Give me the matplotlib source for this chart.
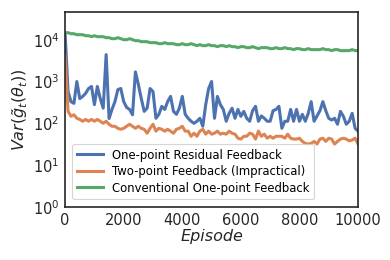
import numpy as np
import matplotlib
matplotlib.use('Agg')
import matplotlib.pyplot as plt

# data, one value every 100 episodes
episodes = np.arange(0, 10001, 100)

residual = [14000, 575, 330, 300, 1000, 390, 440, 520, 680, 760,
	280, 760, 390, 230, 4400, 130, 215, 330, 640, 680,
	330, 240, 215, 160, 1700, 850, 390, 193, 230, 680,
	575, 132, 164, 255, 215, 330, 440, 193, 164, 230,
	440, 164, 132, 112, 100, 112, 132, 85, 280, 680,
	1000, 132, 440, 280, 215, 112, 173, 230, 132, 215,
	147, 193, 132, 112, 200, 255, 112, 150, 132, 112,
	112, 200, 215, 255, 76, 112, 112, 215, 112, 215,
	112, 164, 112, 173, 330, 112, 150, 200, 330, 200,
	132, 120, 132, 95, 193, 147, 95, 112, 173, 76,
	65]

two_point = [4000, 193, 147, 160, 132, 124, 112, 124, 112, 124,
	112, 124, 112, 100, 112, 95, 85, 85, 76, 72,
	76, 85, 95, 85, 76, 85, 76, 72, 58, 76,
	95, 65, 76, 72, 65, 72, 65, 58, 72, 76,
	85, 65, 65, 49, 58, 49, 65, 72, 55, 65,
	55, 58, 65, 55, 58, 55, 65, 58, 55, 44,
	42, 49, 49, 58, 55, 42, 65, 49, 55, 44,
	49, 44, 49, 49, 49, 44, 55, 44, 42, 42,
	44, 37, 33, 32, 33, 37, 32, 42, 44, 37,
	44, 42, 32, 37, 42, 44, 42, 38, 40, 44,
	32]

conventional = [14680, 14680, 13890, 13890, 13150, 13150, 13150, 12450, 12450, 11790,
	12450, 11790, 11790, 11790, 11160, 11160, 10560, 10560, 11160, 10560,
	10000, 10000, 10560, 10000, 9460, 9460, 8960, 8960, 8960, 8480,
	8480, 8480, 8030, 8030, 8480, 8030, 8030, 8030, 7600, 7600,
	8030, 7600, 7600, 8030, 7600, 7200, 7600, 7200, 7200, 7600,
	7200, 7200, 6810, 7200, 7200, 6810, 7200, 6810, 6810, 6450,
	6810, 6810, 6450, 6450, 6810, 6450, 6110, 6450, 6450, 6450,
	6110, 6110, 6450, 6110, 6110, 6450, 6110, 6110, 5780, 6110,
	6110, 5780, 5780, 6110, 5780, 5780, 5780, 5780, 6110, 5780,
	5780, 5470, 5780, 5780, 5470, 5470, 5470, 5470, 5780, 5470,
	5470]

labels = ['One-point Residual Feedback',
	'Two-point Feedback (Impractical)',
	'Conventional One-point Feedback']
colors = ['#4c72b0', '#dd8452', '#55a868']

fig = plt.figure(figsize=(3.9, 2.6), dpi=100)
ax = fig.add_axes([0.167, 0.204, 0.751, 0.75])

for vals, lab, col in zip([residual, two_point, conventional], labels, colors):
	ax.plot(episodes, vals, color=col, lw=2.2, label=lab)

ax.set_yscale('log')
ax.set_xlim(0, 10000)
ax.set_ylim(1, 4.6e4)
ax.set_xticks([0, 2000, 4000, 6000, 8000, 10000])
ax.set_yticks([1, 10, 100, 1000, 10000])
ax.minorticks_off()
ax.tick_params(length=0, labelsize=10.5, colors='#262626', pad=4)
for s in ax.spines.values():
	s.set_color('#262626')
	s.set_linewidth(1.2)

ax.set_xlabel('Episode', fontsize=11.5, style='italic', color='#262626', labelpad=1)
ax.set_ylabel(r'$Var(\tilde{g}_t(\theta_t))$', fontsize=11.5, color='#262626', labelpad=2)

leg = ax.legend(loc='lower left', fontsize=8.4, frameon=True, fancybox=True,
	borderpad=0.4, handlelength=2.2, labelspacing=0.3, bbox_to_anchor=(0.005, 0.01))
leg.get_frame().set_edgecolor('#cccccc')
leg.get_frame().set_linewidth(0.8)

fig.savefig('out.png', dpi=100)
